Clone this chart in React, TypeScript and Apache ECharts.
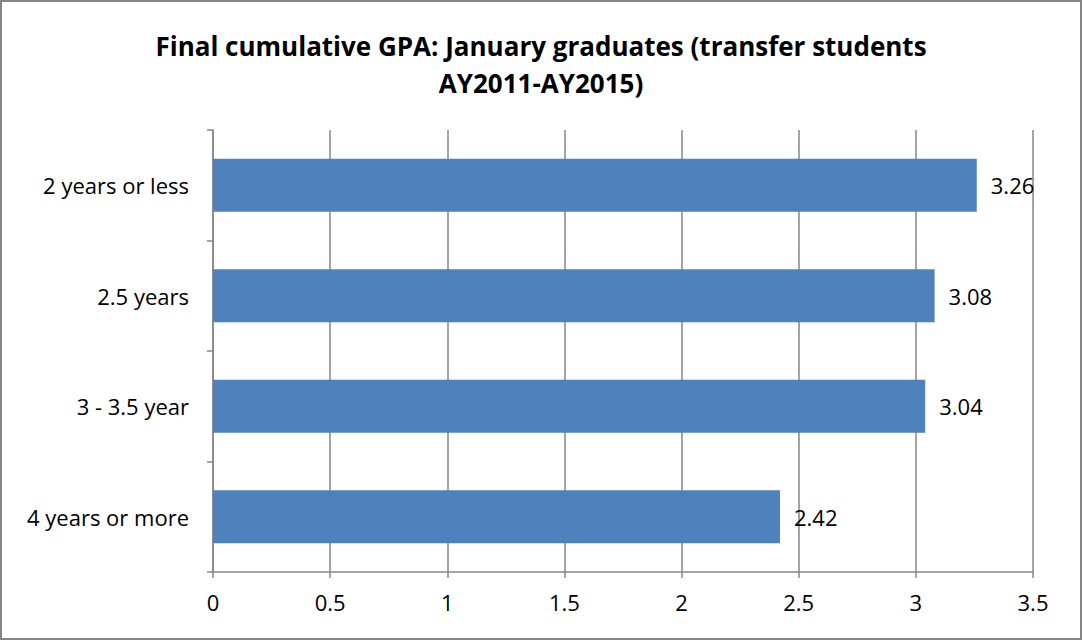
import React, { useEffect, useRef } from "react";
import * as echarts from "echarts";

const titleText = "Final cumulative GPA: January graduates (transfer students\nAY2011-AY2015)";
const categories = ["4 years or more", "3 - 3.5 year", "2.5 years", "2 years or less"];
const gpaValues = [2.42, 3.04, 3.08, 3.26];
const xMin = 0;
const xMax = 3.5;
const xInterval = 0.5;

const FONT = "'Open Sans', 'Noto Sans', sans-serif";
const GREY = "#868686";

export default function App() {
  const ref = useRef<HTMLDivElement>(null);
  useEffect(() => {
    document.body.style.margin = "0";
    const chart = echarts.init(ref.current!, undefined, { renderer: "svg" });
    chart.setOption({
      animation: false,
      backgroundColor: "#ffffff",
      title: {
        text: titleText,
        left: "center",
        top: 22,
        textStyle: {
          fontFamily: FONT,
          fontWeight: "bold",
          fontSize: 26,
          lineHeight: 37,
          color: "#000",
        },
      },
      graphic: [
        {
          type: "rect",
          shape: { x: 1, y: 1, width: 1080, height: 638 },
          style: { fill: "none", stroke: GREY, lineWidth: 2 },
          silent: true,
        },
      ],
      grid: { left: 213, right: 49, top: 130, bottom: 68, containLabel: false },
      xAxis: {
        type: "value",
        min: xMin,
        max: xMax,
        interval: xInterval,
        axisLine: { show: true, lineStyle: { color: GREY, width: 1.5 } },
        axisTick: { show: true, length: 6, lineStyle: { color: GREY, width: 1.5 } },
        splitLine: { show: true, lineStyle: { color: GREY, width: 1.5 } },
        axisLabel: {
          margin: 19,
          fontFamily: FONT,
          fontSize: 22,
          color: "#000",
        },
      },
      yAxis: {
        type: "category",
        data: categories,
        axisLine: { show: true, lineStyle: { color: GREY, width: 1.5 } },
        axisTick: { show: true, length: 6, lineStyle: { color: GREY, width: 1.5 } },
        axisLabel: {
          margin: 24,
          fontFamily: FONT,
          fontSize: 22,
          color: "#000",
        },
      },
      series: [
        {
          type: "bar",
          data: gpaValues,
          barCategoryGap: "52%",
          itemStyle: { color: "#4f81bd" },
          label: {
            show: true,
            position: "right",
            distance: 14,
            fontFamily: FONT,
            fontSize: 22,
            color: "#000",
          },
        },
      ],
    });
    return () => chart.dispose();
  }, []);
  return (
    <div
      ref={ref}
      style={{ position: "absolute", left: 0, top: 0, width: 1082, height: 640 }}
    />
  );
}
